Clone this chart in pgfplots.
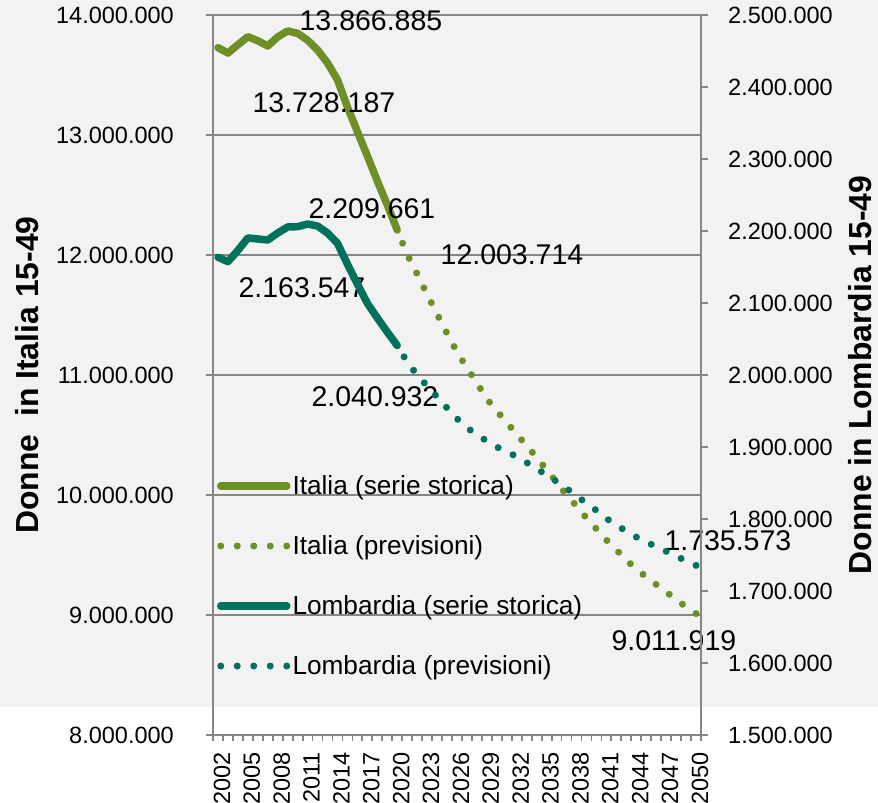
\documentclass[border=0pt]{standalone}
\usepackage{fontspec}
\setmainfont{Liberation Sans}
\usepackage{pgfplots}
\usepackage{pgfplotstable}
\pgfplotsset{compat=1.18}
\definecolor{italia}{RGB}{110,142,38}
\definecolor{lomb}{RGB}{0,114,92}
\definecolor{gridc}{RGB}{134,134,134}
\definecolor{bgc}{RGB}{242,242,242}

\pgfplotstableread{
year val
2002 13728187
2003 13683000
2004 13752000
2005 13819000
2006 13785000
2007 13742000
2008 13817000
2009 13866885
2010 13847000
2011 13790000
2012 13708000
2013 13600000
2014 13460000
2015 13233000
2016 13028000
2017 12825000
2018 12617000
2019 12417000
2020 12208000
}\italiaStor

% projections listed from 2050 back to 2020
\pgfplotstableread{
year val
2050 9011919
2049 9067000
2048 9129000
2047 9192000
2046 9254000
2045 9317000
2044 9383000
2043 9458000
2042 9542000
2041 9625000
2040 9717000
2039 9808000
2038 9908000
2037 10000000
2036 10106000
2035 10210000
2034 10312000
2033 10411000
2032 10504000
2031 10604000
2030 10700000
2029 10800000
2028 10933000
2027 11058000
2026 11192000
2025 11346000
2024 11508000
2023 11671000
2022 11842000
2021 12003714
2020 12208000
}\italiaPrev

\pgfplotstableread{
year val
2002 2163547
2003 2157400
2004 2173000
2005 2190300
2006 2188900
2007 2187500
2008 2197200
2009 2205600
2010 2206000
2011 2209661
2012 2206900
2013 2197200
2014 2182900
2015 2154000
2016 2126400
2017 2099600
2018 2079200
2019 2059700
2020 2040932
}\lombStor

\pgfplotstableread{
year val
2050 1735573
2049 1741700
2048 1748600
2047 1755100
2046 1761500
2045 1768100
2044 1775000
2043 1782900
2042 1791700
2041 1800700
2040 1811800
2039 1821800
2038 1832200
2037 1842400
2036 1852100
2035 1861100
2034 1869700
2033 1878300
2032 1886500
2031 1893500
2030 1900000
2029 1908300
2028 1916700
2027 1926900
2026 1939400
2025 1954200
2024 1969400
2023 1984700
2022 2000000
2021 2018100
2020 2040932
}\lombPrev

\pgfplotsset{
  solidline/.style={line width=7.5bp, line cap=round, line join=round},
  dotline/.style={line width=7bp, line cap=round, dash pattern=on 0bp off 16.5bp},
}

\begin{document}
\begin{tikzpicture}
\useasboundingbox (0,0) rectangle (878bp,803bp);
\fill[bgc] (0,96bp) rectangle (878bp,803bp);
\begin{axis}[
  at={(213bp,68bp)}, anchor=south west,
  width=488bp, height=720bp, scale only axis,
  clip=false,
  xmin=2001.5, xmax=2050.5,
  ymin=8000000, ymax=14000000,
  enlargelimits=false,
  scaled y ticks=false,
  ytick={8000000,9000000,10000000,11000000,12000000,13000000,14000000},
  yticklabel style={anchor=east, inner sep=0pt, xshift=-32bp, /pgf/number format/fixed, /pgf/number format/1000 sep={.}, /pgf/number format/assume math mode=true},
  xtick={2002,2005,2008,2011,2014,2017,2020,2023,2026,2029,2032,2035,2038,2041,2044,2047,2050},
  xticklabels={2002,2005,2008,2011,2014,2017,2020,2023,2026,2029,2032,2035,2038,2041,2044,2047,2050},
  xticklabel style={xshift=4bp, yshift=-10bp, rotate=90, anchor=east, inner sep=0pt},
  minor xtick={2001.5,2002.5,...,2050.5},
  major x tick style={draw=none},
  xtick pos=bottom, ytick pos=left,
  tick align=outside,
  major tick length=7bp, minor tick length=6bp,
  tick label style={font=\fontsize{23.6}{28}\selectfont},
  axis line style={gridc, line width=1.8bp},
  every tick/.style={gridc, line width=1.8bp},
  ymajorgrids,
  major grid style={gridc, line width=1.8bp},
  ylabel={Donne\ \ in Italia 15-49},
  every axis y label/.style={at={([xshift=-186bp]rel axis cs:0,0.5)}, rotate=90, anchor=center, font=\bfseries\fontsize{32}{38}\selectfont},
]
\addplot[italia, solidline] table[x=year, y=val] {\italiaStor};
\addplot[italia, dotline] table[x=year, y=val] {\italiaPrev};
\begin{scope}[every node/.style={font=\fontsize{28.6}{34}\selectfont, inner sep=0pt, anchor=center}]
\node at (axis cs:2017.36,13950000) {13.866.885};
\node at (axis cs:2012.64,13267000) {13.728.187};
\node at (axis cs:2017.46,12383000) {2.209.661};
\node at (axis cs:2010.43,11725000) {2.163.547};
\node at (axis cs:2031.52,12000000) {12.003.714};
\node at (axis cs:2017.76,10817000) {2.040.932};
\node at (axis cs:2053.2,9620000) {1.735.573};
\node at (axis cs:2047.78,8783000) {9.011.919};
\end{scope}
\end{axis}
\begin{axis}[
  at={(213bp,68bp)}, anchor=south west,
  width=488bp, height=720bp, scale only axis,
  clip=false,
  xmin=2001.5, xmax=2050.5,
  ymin=1500000, ymax=2500000,
  enlargelimits=false,
  axis x line=none,
  axis y line*=right,
  scaled y ticks=false,
  ytick={1500000,1600000,1700000,1800000,1900000,2000000,2100000,2200000,2300000,2400000,2500000},
  yticklabel style={anchor=west, inner sep=0pt, xshift=20bp, /pgf/number format/fixed, /pgf/number format/1000 sep={.}, /pgf/number format/assume math mode=true},
  tick align=outside,
  major tick length=7bp,
  tick label style={font=\fontsize{23.6}{28}\selectfont},
  axis line style={gridc, line width=1.8bp},
  every tick/.style={gridc, line width=1.8bp},
  ylabel={Donne in Lombardia 15-49},
  every axis y label/.style={at={([xshift=159bp]rel axis cs:1,0.5)}, rotate=90, anchor=center, font=\bfseries\fontsize{32}{38}\selectfont},
  legend cell align=left,
  legend image code/.code={\draw[#1] (0bp,1.5bp) -- (66bp,1.5bp);},
  legend style={at={([xshift=4bp]rel axis cs:0,0.3611)}, anchor=north west, draw=none, fill=none, inner sep=0pt, outer sep=0pt, row sep=35bp, column sep=0pt, /tikz/every odd column/.append style={column sep=2bp}, font=\fontsize{26.3}{30}\selectfont, nodes={inner sep=0pt, text height=19bp, text depth=6bp}},
]
\addlegendimage{italia, solidline}
\addlegendentry{Italia (serie storica)}
\addlegendimage{italia, dotline}
\addlegendentry{Italia (previsioni)}
\addplot[lomb, solidline] table[x=year, y=val] {\lombStor};
\addlegendentry{Lombardia (serie storica)}
\addplot[lomb, dotline] table[x=year, y=val] {\lombPrev};
\addlegendentry{Lombardia (previsioni)}
\end{axis}
\end{tikzpicture}
\end{document}
